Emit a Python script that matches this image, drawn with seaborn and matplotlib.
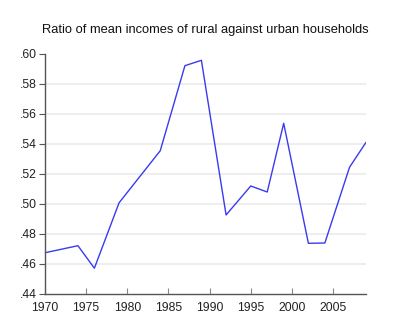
import matplotlib
matplotlib.use("Agg")
import matplotlib.pyplot as plt
import seaborn as sns
import pandas as pd

years = [1970, 1974, 1976, 1979, 1984, 1987, 1989, 1992, 1995, 1997, 1999, 2002, 2004, 2007, 2009]
ratio = [0.4675, 0.4722, 0.4572, 0.5008, 0.5355, 0.5922, 0.5958, 0.4927, 0.5120, 0.5080,
         0.5538, 0.4738, 0.4740, 0.5245, 0.5411]
x_ticks = [1970, 1975, 1980, 1985, 1990, 1995, 2000, 2005]
y_ticks = [0.44, 0.46, 0.48, 0.50, 0.52, 0.54, 0.56, 0.58, 0.60]
y_labels = [".44", ".46", ".48", ".50", ".52", ".54", ".56", ".58", ".60"]
title = "Ratio of mean incomes of rural against urban households"

df = pd.DataFrame({"year": years, "ratio": ratio})

sns.set_theme(style="white")
plt.rcParams["font.family"] = ["Liberation Sans", "DejaVu Sans"]

fig = plt.figure(figsize=(4.0, 3.34), dpi=100)
ax = fig.add_axes([45 / 400, 1 - 294 / 334, 321 / 400, 240 / 334])

sns.lineplot(data=df, x="year", y="ratio", ax=ax, color="#3a3af0", linewidth=1.0)

ax.set_xlim(1970, 2009)
ax.set_ylim(0.44, 0.60)
ax.set_xticks(x_ticks)
ax.set_xticklabels([str(t) for t in x_ticks])
ax.set_yticks(y_ticks)
ax.set_yticklabels(y_labels)
ax.set_xlabel("")
ax.set_ylabel("")

for yv in y_ticks[1:-1]:
    ax.axhline(yv, color="#ebebeb", linewidth=1.2, zorder=0)

for side in ("top", "right"):
    ax.spines[side].set_visible(False)
for side in ("left", "bottom"):
    ax.spines[side].set_color("#555555")
    ax.spines[side].set_linewidth(1.0)

ax.tick_params(axis="x", direction="in", length=4, width=0.8, color="#888888",
               labelsize=8.7, labelcolor="#222222", pad=6)
ax.tick_params(axis="y", direction="out", length=4, width=0.8, color="#555555",
               labelsize=8.7, labelcolor="#222222", pad=2)
ax.tick_params(bottom=True, left=True)

fig.text(205.5 / 400, 1 - 30 / 334, title, ha="center", va="center",
         fontsize=9.3, color="#111111")

fig.savefig("out.png", dpi=100)
